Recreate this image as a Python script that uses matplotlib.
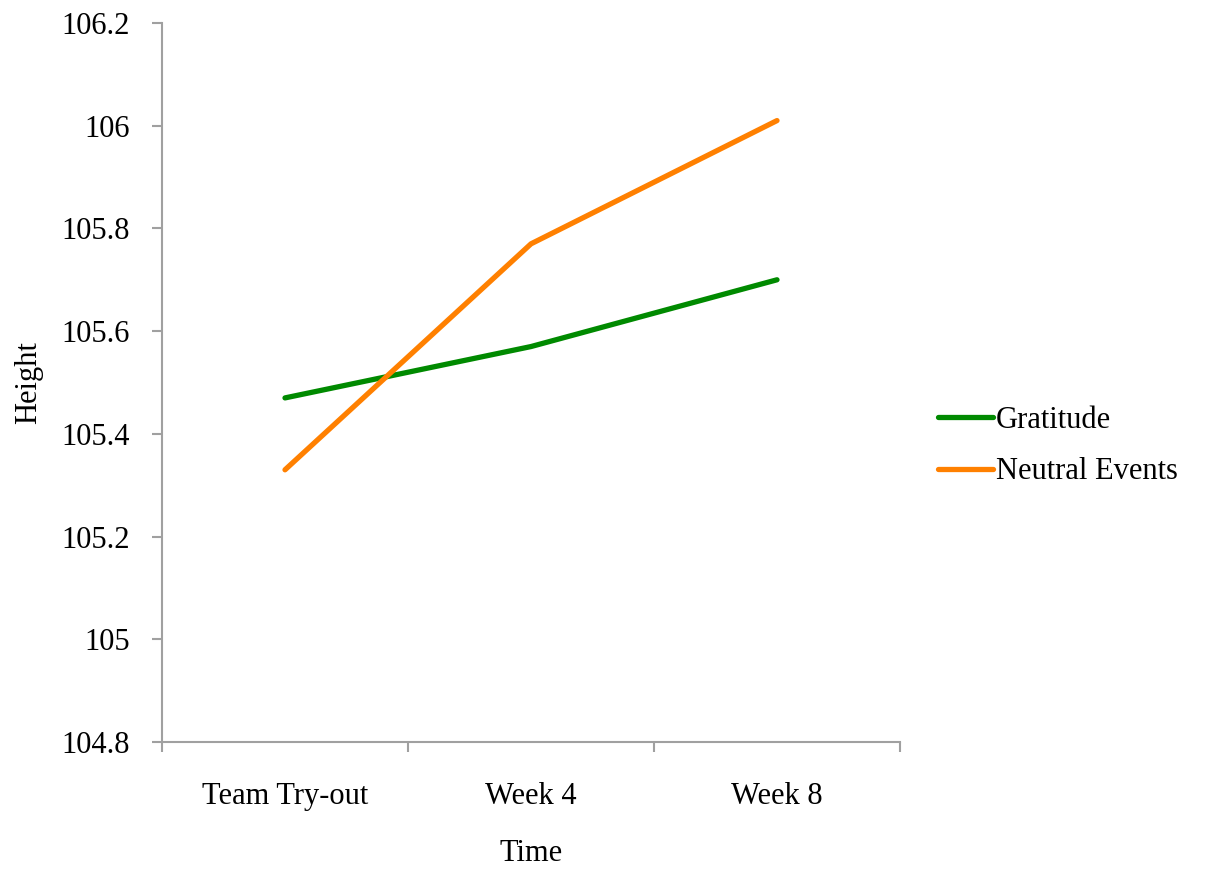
import matplotlib
matplotlib.use('Agg')
import matplotlib.pyplot as plt
import numpy as np

times = ['Team Try-out', 'Week 4', 'Week 8']
gratitude = [105.47, 105.57, 105.70]
neutral = [105.33, 105.77, 106.01]
yticks = [104.8, 105.0, 105.2, 105.4, 105.6, 105.8, 106.0, 106.2]
ylabels = ['104.8', '105', '105.2', '105.4', '105.6', '105.8', '106', '106.2']

plt.rcParams['font.family'] = ['Liberation Serif', 'DejaVu Serif']

fig = plt.figure(figsize=(12.12, 8.69), dpi=100)
ax = fig.add_axes([162 / 1212, 1 - 742 / 869, (900 - 162) / 1212, (742 - 23) / 869])

x = np.arange(len(times))
ax.plot(x, gratitude, color='#008a00', lw=3.8, solid_capstyle='round', label='Gratitude')
ax.plot(x, neutral, color='#ff8000', lw=3.8, solid_capstyle='round', label='Neutral Events')

ax.set_xlim(-0.5, len(times) - 0.5)
ax.set_ylim(104.8, 106.2)
ax.set_yticks(yticks)
ax.set_yticklabels(ylabels, fontsize=22)
ax.set_xticks(x)
ax.set_xticklabels(times, fontsize=22)
ax.tick_params(axis='x', length=0, pad=29)
ax.set_xticks(np.arange(len(times) + 1) - 0.5, minor=True)
ax.tick_params(axis='x', which='minor', length=7, width=1.5, color='#a0a0a0')
ax.tick_params(axis='y', length=7, width=1.5, color='#a0a0a0', pad=16)

for s in ['top', 'right']:
    ax.spines[s].set_visible(False)
for s in ['left', 'bottom']:
    ax.spines[s].set_color('#a0a0a0')
    ax.spines[s].set_linewidth(1.5)

ax.set_xlabel('Time', fontsize=22, labelpad=20)
ax.set_ylabel('Height', fontsize=22, labelpad=13)

fig.legend(handles=ax.get_lines(), loc='center left', bbox_to_anchor=(938 / 1212, 1 - 446 / 869),
           frameon=False, fontsize=22, borderaxespad=0, borderpad=0,
           handlelength=1.8, handletextpad=0.1, labelspacing=0.75)

fig.savefig('out.png', dpi=100)
